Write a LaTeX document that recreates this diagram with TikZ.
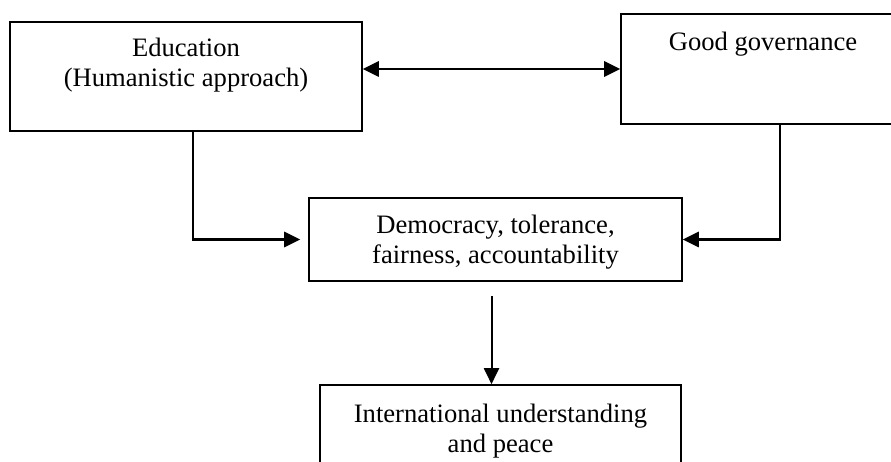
\documentclass[tikz,border=0pt]{standalone}
\usepackage{fontspec}
\setmainfont{Liberation Serif}
\usetikzlibrary{positioning, arrows.meta}

\begin{document}
\begin{tikzpicture}[x=1pt, y=1pt,
	>={Triangle[length=16pt, width=15pt]},
	box/.style={draw, line width=1.6pt, inner sep=0pt},
	txt/.style={inner sep=0pt, align=center, font=\fontsize{26.6}{30}\selectfont},
	conn/.style={line width=2.8pt, ->}]
	\useasboundingbox (0,0) rectangle (891,461);
	\clip (0,0) rectangle (891,461);
	
	\node[box, minimum width=352pt, minimum height=109pt] (edu) at (186,384.5){};
	\node[box, minimum width=284pt, minimum height=110pt] (gov) at (763,392){};
	\node[box, minimum width=373pt, minimum height=83pt] (dem) at (495.5,221.5){};
	\node[box, minimum width=361pt, minimum height=110pt] (intl) at (500.5,21){};
	
	\node[txt, below=17pt of edu.north] (eduTxt) {Education\\(Humanistic approach)};
	\node[txt, below=19pt of gov.north] (govTxt) {Good governance};
	\node[txt, below=18pt of dem.north] (demTxt) {Democracy, tolerance,\\fairness, accountability};
	\node[txt, below=20pt of intl.north] (intlTxt) {International understanding\\and peace};
	
	\draw[conn, <->] (gov.west -| edu.east) -- (gov.west);
	\draw[conn] ([xshift=7pt]edu.south) |- ([xshift=-8pt]dem.west);
	\draw[conn] ([xshift=17pt]gov.south) |- (dem.east);
	\draw[conn, line width=2pt] ([xshift=-4pt, yshift=-14pt]dem.south) -- ([xshift=-4pt]dem.south |- intl.north);
\end{tikzpicture}
\end{document}
